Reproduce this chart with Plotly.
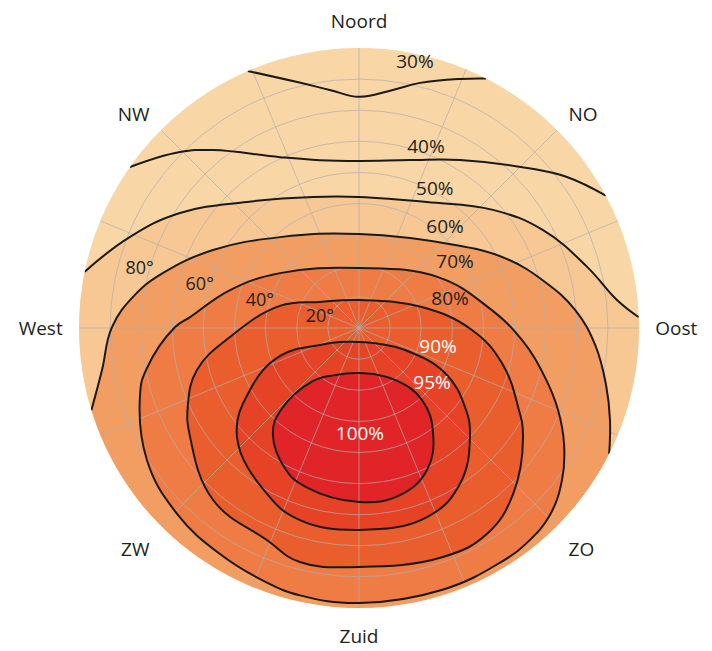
import numpy as np
import plotly.graph_objects as go

# Windrichtingen (azimut in graden, met de klok mee vanaf noord)
richting_hoeken = [i * 22.5 for i in range(16)]
richting_labels = ["Noord", "", "NO", "", "Oost", "", "ZO", "",
                   "Zuid", "", "ZW", "", "West", "", "NW", ""]

# Hellingshoek van het paneel (straal)
hellingen = [20, 40, 60, 80]
helling_labels = ["20°", "40°", "60°", "80°"]

# Isolijnen: azimut (graden) en helling (graden)
az_30 = [336.6, 345.9, 353.0, 360.0, 368.1, 374.0, 382.1, 387.0]
hl_30 = [90, 81.5, 77.1, 74.3, 77.3, 81.2, 86.4, 90]

az_40 = [305.1, 314.5, 320.6, 335.2, 346.9, 360.0, 376.9, 391.0, 406.4, 414.0, 421.8]
hl_40 = [90, 80.7, 74.0, 60.5, 55.4, 53.7, 56.4, 63.0, 74.6, 82.6, 90]

az_50 = [281.6, 291.7, 302.7, 318.4, 340.7, 360.0, 388.4, 408.6, 422.0, 435.0, 443.8, 447.8]
hl_50 = [90, 79.2, 68.4, 54.2, 44.6, 42.1, 46.0, 57.4, 67.0, 75.9, 83.4, 90]

az_60 = [252.9, 260.7, 270.2, 278.4, 285.7, 298.1, 319.0, 360.0, 409.2, 424.4,
         436.1, 445.2, 454.1, 463.0, 470.1, 476.7]
hl_60 = [90, 83.7, 79.4, 72.8, 65.4, 53.2, 38.7, 30.2, 40.8, 52.0,
         61.6, 69.7, 76.1, 81.5, 85.9, 90]

az_70 = [0, 57.2, 80.8, 94.2, 104.8, 112.4, 119.7, 126.8, 134.4, 141.7, 149.0, 162.3, 180.0,
         192.4, 200.0, 211.6, 224.4, 238.1, 253.2, 258.8, 270.3, 273.7, 286.4, 304.8, 360]
hl_70 = [19.3, 30.2, 42.0, 52.5, 61.8, 69.2, 75.9, 81.5, 85.9, 87.6, 88.0, 88.3, 88.4,
         88.0, 87.0, 85.3, 83.6, 80.3, 73.5, 69.8, 59.1, 54.4, 43.2, 30.9, 19.3]

az_80 = [0, 71.6, 91.0, 103.8, 116.4, 123.6, 137.1, 148.1, 159.9, 180.0,
         194.2, 203.5, 220.3, 237.2, 245.8, 255.5, 266.0, 285.6, 303.7, 360]
hl_80 = [9.0, 21.3, 36.3, 47.3, 57.1, 63.3, 72.8, 77.9, 78.4, 76.8,
         77.6, 74.3, 72.5, 64.6, 60.3, 53.8, 41.6, 26.4, 15.1, 9.0]

az_90 = [180.0, 127.3, 115.6, 117.6, 126.7, 134.5, 147.1, 160.2, 180.0,
         197.1, 209.0, 228.2, 240.4, 250.5, 246.4, 233.6, 180.0]
hl_90 = [4.5, 8.5, 16.4, 31.2, 42.5, 50.0, 59.7, 64.6, 64.9,
         64.6, 61.0, 52.6, 40.3, 26.9, 13.7, 7.6, 4.5]

az_95 = [180.0, 145.3, 138.8, 144.8, 154.4, 166.2, 180.0,
         198.4, 207.2, 219.1, 223.6, 221.0, 207.0, 180.0]
hl_95 = [14.5, 20.3, 30.8, 41.3, 50.6, 55.3, 55.9,
         53.9, 51.3, 43.9, 36.4, 22.6, 17.0, 14.5]

niveau_labels = ["30%", "40%", "50%", "60%", "70%", "80%", "90%", "95%", "100%"]

# plaats van de labels bij de lijnen
label_az = [11.9, 20.4, 28.8, 40.7, 55.9, 72.9, 104.2, 127.5, 179.5]
label_r = [87.1, 61.7, 50.6, 42.4, 37.3, 30.6, 26.2, 29.6, 34.4]
label_kleur = ["#231f20"] * 6 + ["white"] * 3

FONT = "Open Sans, Noto Sans, sans-serif"
PERZIK = "#F9D6A6"
LIJN = "#1a1a1a"
GRID = "rgba(175,175,175,0.7)"
GLAD = 1.2


def open_vlak(az, hl, n=60):
    # open lijn sluiten langs de rand (r = 90) aan de zuidkant
    boog = np.linspace(az[-1] - 360 if az[-1] > 360 else az[-1], az[0], n)
    return list(az) + list(boog), list(hl) + [90] * n


fig = go.Figure()

vlakken = [
    (open_vlak(az_50, hl_50), "#F7C894"),
    (open_vlak(az_60, hl_60), "#F29D62"),
    ((az_70, hl_70), "#EE7C44"),
    ((az_80, hl_80), "#EA5E2D"),
    ((az_90, hl_90), "#E54226"),
    ((az_95, hl_95), "#E12427"),
]
for (th, rr), kleur in vlakken:
    fig.add_trace(go.Scatterpolar(
        theta=th, r=rr, mode="lines", fill="toself", fillcolor=kleur,
        line=dict(width=0, shape="spline", smoothing=GLAD),
        hoverinfo="skip", showlegend=False, subplot="polar"
    ))

lijnen = [(az_30, hl_30), (az_40, hl_40), (az_50, hl_50), (az_60, hl_60),
          (az_70, hl_70), (az_80, hl_80), (az_90, hl_90), (az_95, hl_95)]
for th, rr in lijnen:
    fig.add_trace(go.Scatterpolar(
        theta=th, r=rr, mode="lines",
        line=dict(color=LIJN, width=2, shape="spline", smoothing=GLAD),
        hoverinfo="skip", showlegend=False, subplot="polar2"
    ))

fig.add_trace(go.Scatterpolar(
    theta=[285] * len(hellingen), r=[h - 7 for h in hellingen],
    mode="text", text=helling_labels,
    textfont=dict(family=FONT, size=18, color="#231f20"),
    hoverinfo="skip", showlegend=False, subplot="polar2"
))

fig.add_trace(go.Scatterpolar(
    theta=label_az, r=label_r, mode="text", text=niveau_labels,
    textfont=dict(family=FONT, size=19, color=label_kleur),
    hoverinfo="skip", showlegend=False, subplot="polar2"
))

as_basis = dict(rotation=90, direction="clockwise")

# pagina heeft 8px marge, daarom iets kleiner dan het venster
fig.update_layout(
    width=702, height=641,
    margin=dict(l=71, r=71, t=40, b=41),
    paper_bgcolor="white",
    font=dict(family=FONT, color="#231f20"),
    polar=dict(
        domain=dict(x=[0, 1], y=[0, 1]),
        bgcolor=PERZIK,
        radialaxis=dict(range=[0, 90], visible=False),
        angularaxis=dict(**as_basis, visible=False),
    ),
    polar2=dict(
        domain=dict(x=[0, 1], y=[0, 1]),
        bgcolor="rgba(0,0,0,0)",
        radialaxis=dict(
            range=[0, 90], tickmode="array", tickvals=list(range(10, 90, 10)),
            showticklabels=False, ticks="", showline=False,
            gridcolor=GRID, gridwidth=1,
        ),
        angularaxis=dict(
            **as_basis, tickmode="array", tickvals=richting_hoeken,
            ticktext=richting_labels, ticks="outside", ticklen=12,
            tickcolor="rgba(0,0,0,0)", showline=False,
            gridcolor=GRID, gridwidth=1,
            tickfont=dict(family=FONT, size=19, color="#231f20"),
        ),
    ),
)

fig.write_html("out.html")
